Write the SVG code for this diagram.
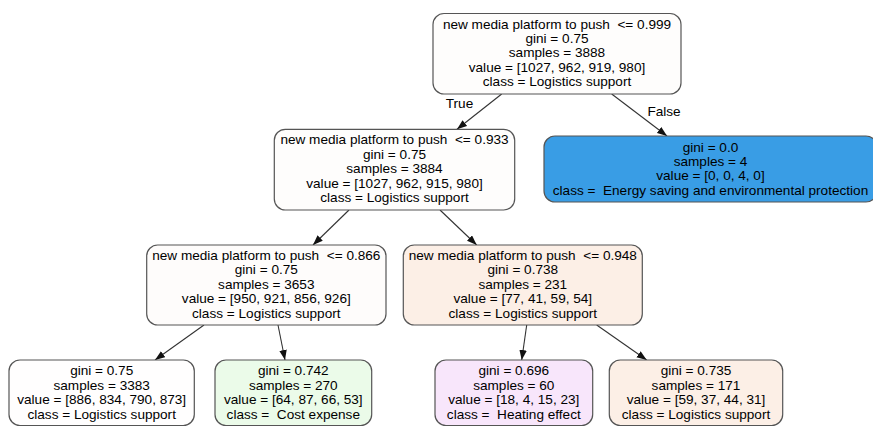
<svg xmlns="http://www.w3.org/2000/svg" width="873" height="428" viewBox="0 0 873 428" xml:space="preserve">
<style>
text{font-family:"Liberation Sans",Arial,sans-serif;font-size:13.6px;fill:#000;text-anchor:middle;white-space:pre}
.box{stroke:#555;stroke-width:1.2}
.edge{stroke:#333;stroke-width:1.1;fill:none;marker-end:url(#arr)}
</style>
<defs>
<marker id="arr" markerUnits="userSpaceOnUse" markerWidth="11" markerHeight="8" refX="10" refY="3.75" orient="auto">
<path d="M0,0 L10,3.75 L0,7.5 z" fill="#111"/>
</marker>
</defs>
<rect width="873" height="428" fill="#fff"/>
<g id="connectors">
<line class="edge" x1="501.7" y1="94" x2="457" y2="129.3"/>
<line class="edge" x1="611.7" y1="94" x2="667" y2="136"/>
<line class="edge" x1="349" y1="210" x2="313" y2="245"/>
<line class="edge" x1="440" y1="210" x2="476.7" y2="245"/>
<line class="edge" x1="204" y1="325" x2="155" y2="360"/>
<line class="edge" x1="278" y1="325" x2="285" y2="360"/>
<line class="edge" x1="526.7" y1="325" x2="521.7" y2="360"/>
<line class="edge" x1="596.7" y1="325" x2="646.7" y2="360"/>
<text x="459.5" y="108">True</text>
<text x="664" y="116">False</text>
</g>
<g id="root">
<rect class="box" x="433" y="13.5" width="248" height="80.5" rx="11" fill="#fefdfc"/>
<text x="557" y="28.5">new media platform to push  &lt;= 0.999</text>
<text x="557" y="42.9">gini = 0.75</text>
<text x="557" y="57.3">samples = 3888</text>
<text x="557" y="71.7">value = [1027, 962, 919, 980]</text>
<text x="557" y="86.1">class = Logistics support</text>
</g>
<g id="leaf_energy">
<rect class="box" x="544" y="136" width="333" height="66" rx="11" fill="#399de5"/>
<text x="710.5" y="151.6">gini = 0.0</text>
<text x="710.5" y="166">samples = 4</text>
<text x="710.5" y="180.4">value = [0, 0, 4, 0]</text>
<text x="710.5" y="194.8">class =  Energy saving and environmental protection</text>
</g>
<g id="node_0933">
<rect class="box" x="274.3" y="129.3" width="240.4" height="80.7" rx="11" fill="#fefdfc"/>
<text x="394.5" y="144.4">new media platform to push  &lt;= 0.933</text>
<text x="394.5" y="158.8">gini = 0.75</text>
<text x="394.5" y="173.2">samples = 3884</text>
<text x="394.5" y="187.6">value = [1027, 962, 915, 980]</text>
<text x="394.5" y="202">class = Logistics support</text>
</g>
<g id="node_0866">
<rect class="box" x="146.7" y="245" width="239.3" height="80" rx="11" fill="#fefcfb"/>
<text x="266.3" y="259.9">new media platform to push  &lt;= 0.866</text>
<text x="266.3" y="274.3">gini = 0.75</text>
<text x="266.3" y="288.7">samples = 3653</text>
<text x="266.3" y="303.1">value = [950, 921, 856, 926]</text>
<text x="266.3" y="317.5">class = Logistics support</text>
</g>
<g id="node_0948">
<rect class="box" x="403.3" y="245" width="239" height="80" rx="11" fill="#fcefe6"/>
<text x="522.8" y="259.9">new media platform to push  &lt;= 0.948</text>
<text x="522.8" y="274.3">gini = 0.738</text>
<text x="522.8" y="288.7">samples = 231</text>
<text x="522.8" y="303.1">value = [77, 41, 59, 54]</text>
<text x="522.8" y="317.5">class = Logistics support</text>
</g>
<g id="leaf_3383">
<rect class="box" x="9" y="360" width="185.3" height="65.5" rx="11" fill="#fffefe"/>
<text x="101.7" y="375.4">gini = 0.75</text>
<text x="101.7" y="389.8">samples = 3383</text>
<text x="101.7" y="404.2">value = [886, 834, 790, 873]</text>
<text x="101.7" y="418.6">class = Logistics support</text>
</g>
<g id="leaf_270">
<rect class="box" x="215" y="360" width="156.7" height="65.5" rx="11" fill="#ebfbe9"/>
<text x="293.3" y="375.4">gini = 0.742</text>
<text x="293.3" y="389.8">samples = 270</text>
<text x="293.3" y="404.2">value = [64, 87, 66, 53]</text>
<text x="293.3" y="418.6">class =  Cost expense</text>
</g>
<g id="leaf_60">
<rect class="box" x="435" y="360" width="157.7" height="65.5" rx="11" fill="#f8e6fb"/>
<text x="513.8" y="375.4">gini = 0.696</text>
<text x="513.8" y="389.8">samples = 60</text>
<text x="513.8" y="404.2">value = [18, 4, 15, 23]</text>
<text x="513.8" y="418.6">class =  Heating effect</text>
</g>
<g id="leaf_171">
<rect class="box" x="609.3" y="360" width="173.4" height="65.5" rx="11" fill="#fcefe6"/>
<text x="696" y="375.4">gini = 0.735</text>
<text x="696" y="389.8">samples = 171</text>
<text x="696" y="404.2">value = [59, 37, 44, 31]</text>
<text x="696" y="418.6">class = Logistics support</text>
</g>
</svg>
